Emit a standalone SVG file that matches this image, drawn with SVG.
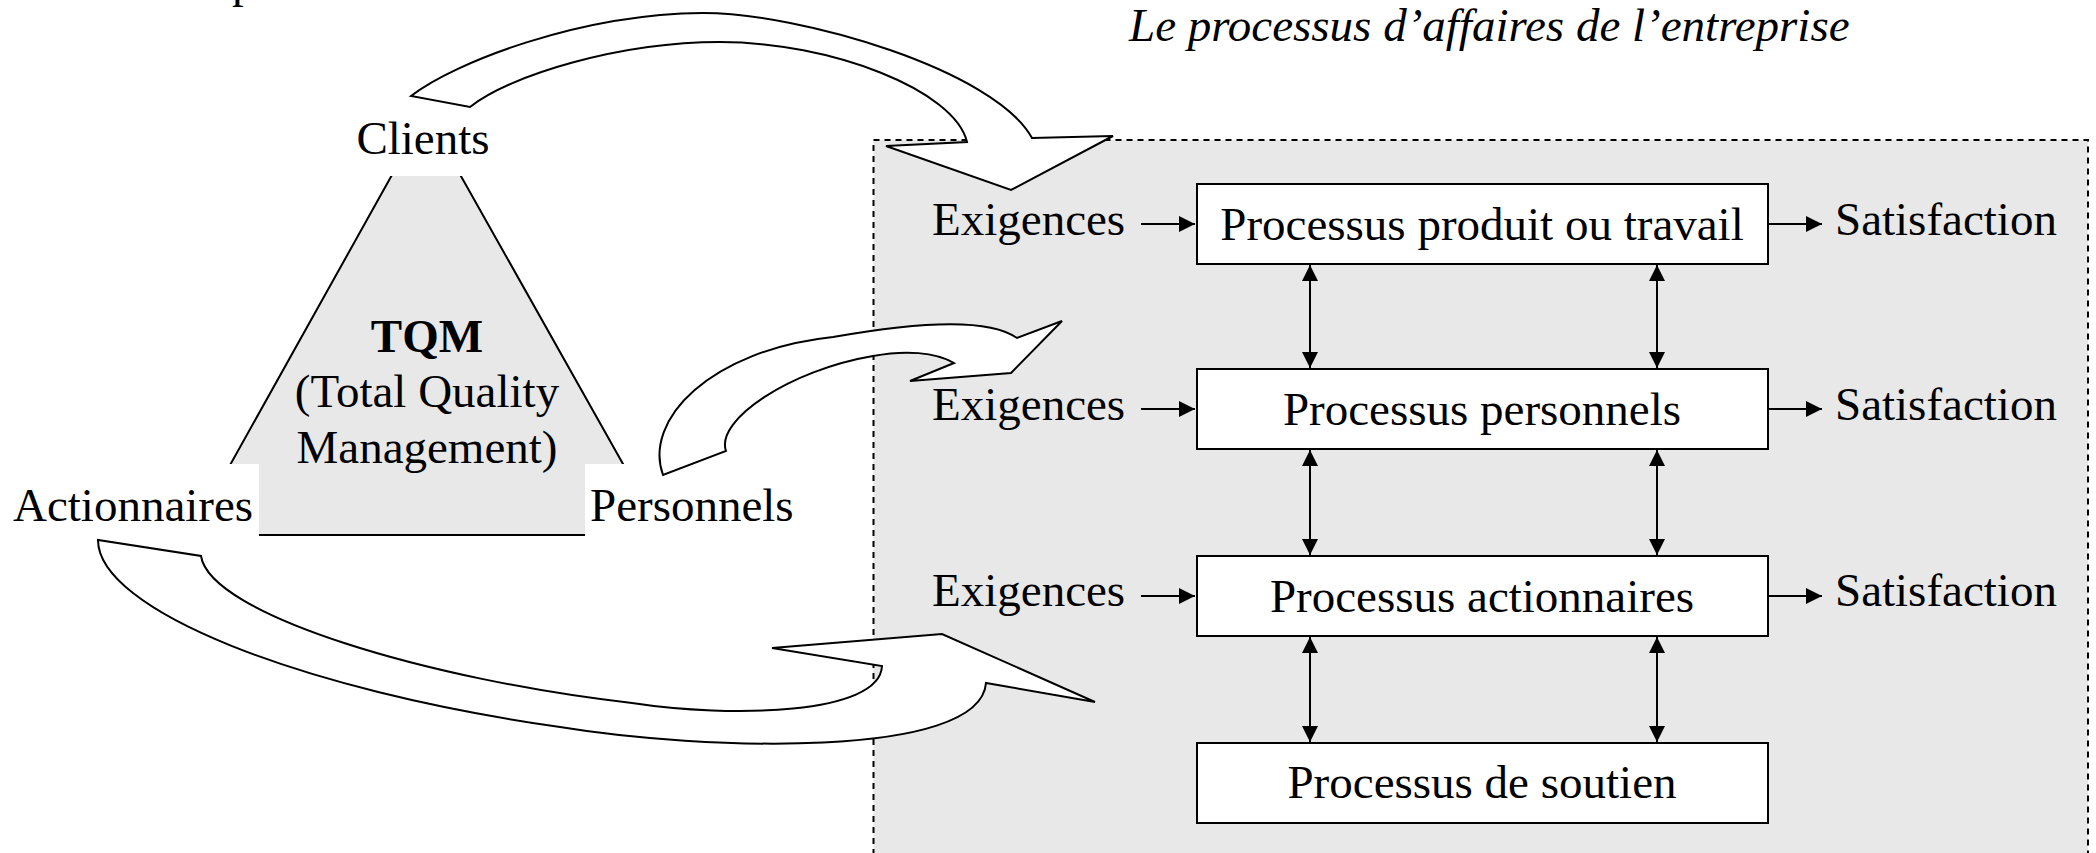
<svg xmlns="http://www.w3.org/2000/svg" width="2096" height="853" viewBox="0 0 2096 853">
  <style>
    .t { font-family: "Liberation Serif", "Times New Roman", serif; font-size: 47px; fill: #000; }
    .mid { text-anchor: middle; }
    .bold { font-weight: bold; }
    .ital { font-style: italic; }
    .zone { fill: #e8e8e8; stroke: #000; stroke-width: 2; stroke-dasharray: 6 5; }
    .tqm { fill: #e8e8e8; stroke: #000; stroke-width: 2; }
    .mask { fill: #fff; stroke: none; }
    .block { fill: #fff; stroke: #000; stroke-width: 2; stroke-linejoin: miter; }
    .box { fill: #fff; stroke: #000; stroke-width: 2; }
    .link { stroke: #000; stroke-width: 2; fill: none; }
  </style>
  <defs>
    <marker id="ah" viewBox="0 0 16 16" refX="16" refY="8" markerWidth="16" markerHeight="16" markerUnits="userSpaceOnUse" orient="auto-start-reverse">
      <path d="M0,0 L16,8 L0,16 z" fill="#000"/>
    </marker>
  </defs>

  <rect width="2096" height="853" fill="#fff"/>

  <!-- partial line of text above the frame -->
  <text class="t" x="232" y="-3">p</text>

  <!-- business process zone -->
  <g id="zone">
    <rect class="zone" x="873.5" y="140" width="1214.5" height="760"/>
    <text class="t ital" x="1129" y="41">Le processus d’affaires de l’entreprise</text>
  </g>

  <!-- TQM triangle with its three stakeholders -->
  <g id="tqm">
    <polygon class="tqm" points="426,114 191,535 663,535"/>
    <rect class="mask" x="330" y="96" width="190" height="80"/>
    <rect class="mask" x="0" y="464" width="259" height="76"/>
    <rect class="mask" x="585" y="464" width="220" height="76"/>
    <text class="t mid bold" x="427" y="352">TQM</text>
    <text class="t mid" x="427" y="407">(Total Quality</text>
    <text class="t mid" x="427" y="463">Management)</text>
  </g>
  <g id="clients"><text class="t mid" x="423" y="154">Clients</text></g>
  <g id="actionnaires"><text class="t" x="13" y="521">Actionnaires</text></g>
  <g id="personnels"><text class="t" x="590" y="521">Personnels</text></g>

  <!-- process boxes -->
  <g id="p-produit">
    <rect class="box" x="1197" y="184" width="571" height="80"/>
    <text class="t mid" x="1482" y="240">Processus produit ou travail</text>
  </g>
  <g id="p-personnels">
    <rect class="box" x="1197" y="369" width="571" height="80"/>
    <text class="t mid" x="1482" y="425">Processus personnels</text>
  </g>
  <g id="p-actionnaires">
    <rect class="box" x="1197" y="556" width="571" height="80"/>
    <text class="t mid" x="1482" y="612">Processus actionnaires</text>
  </g>
  <g id="p-soutien">
    <rect class="box" x="1197" y="743" width="571" height="80"/>
    <text class="t mid" x="1482" y="798">Processus de soutien</text>
  </g>

  <!-- inputs and outputs -->
  <g id="io">
    <text class="t" x="932" y="235">Exigences</text>
    <text class="t" x="932" y="420">Exigences</text>
    <text class="t" x="932" y="606">Exigences</text>
    <text class="t" x="1835" y="235">Satisfaction</text>
    <text class="t" x="1835" y="420">Satisfaction</text>
    <text class="t" x="1835" y="606">Satisfaction</text>
  </g>

  <!-- connectors -->
  <g id="connectors">
    <line class="link" x1="1141" y1="224" x2="1195" y2="224" marker-end="url(#ah)"/>
    <line class="link" x1="1141" y1="409" x2="1195" y2="409" marker-end="url(#ah)"/>
    <line class="link" x1="1141" y1="596" x2="1195" y2="596" marker-end="url(#ah)"/>
    <line class="link" x1="1769" y1="224" x2="1822" y2="224" marker-end="url(#ah)"/>
    <line class="link" x1="1769" y1="409" x2="1822" y2="409" marker-end="url(#ah)"/>
    <line class="link" x1="1769" y1="596" x2="1822" y2="596" marker-end="url(#ah)"/>

    <line class="link" x1="1310" y1="265" x2="1310" y2="368" marker-start="url(#ah)" marker-end="url(#ah)"/>
    <line class="link" x1="1657" y1="265" x2="1657" y2="368" marker-start="url(#ah)" marker-end="url(#ah)"/>
    <line class="link" x1="1310" y1="450" x2="1310" y2="555" marker-start="url(#ah)" marker-end="url(#ah)"/>
    <line class="link" x1="1657" y1="450" x2="1657" y2="555" marker-start="url(#ah)" marker-end="url(#ah)"/>
    <line class="link" x1="1310" y1="637" x2="1310" y2="742" marker-start="url(#ah)" marker-end="url(#ah)"/>
    <line class="link" x1="1657" y1="637" x2="1657" y2="742" marker-start="url(#ah)" marker-end="url(#ah)"/>

    <!-- curved block arrows from each stakeholder into the zone -->
    <path class="block" d="M411,96 C455,62 580,14 703,13 C800,13 995,70 1032,138 L1113,136 L1011,190 L886,146 L967,142 C955,90 830,42 720,42 C620,42 510,75 470,107 Z"/>
    <path class="block" d="M663,475 C643,420 710,350 833,337 C900,325 985,315 1017,338 L1062,321 L1011,373 L910,381 L954,363 C935,352 905,350 873,356 C790,370 715,420 726,451 Z"/>
    <path class="block" d="M98,540 C98,610 300,690 560,727 C700,750 980,760 986,683 L1095,702 L942,634 L772,648 L882,666 C880,715 730,718 632,703 C430,680 210,615 201,556 Z"/>
  </g>
</svg>
